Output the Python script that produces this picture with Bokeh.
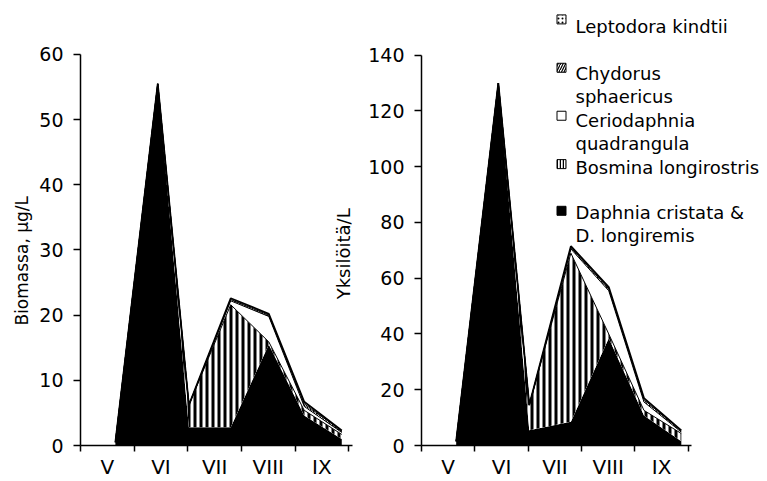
import numpy as np
from bokeh.plotting import figure
from bokeh.models import FixedTicker, Range1d
from bokeh.layouts import row
from bokeh.embed import file_html
from bokeh.resources import INLINE
from bokeh.core.properties import value

FONT = "DejaVu Sans"

# ---------------- data ----------------
months = ["V", "VI", "VII", "VIII", "IX"]
# sampling dates expressed as position within the month axis (V = 0..1, VI = 1..2, ...)
sample_pos = [0.65, 1.44, 2.02, 2.80, 3.51, 4.17, 4.87]

# stacking order bottom -> top
species = ["Daphnia cristata &\nD. longiremis", "Bosmina longirostris",
           "Ceriodaphnia\nquadrangula", "Chydorus\nsphaericus", "Leptodora kindtii"]

# biomass, ug/L
biomass_daphnia = [0.5, 55.5, 2.8, 2.8, 15.5, 4.6, 1.0]
biomass_bosmina = [0.0, 0.0, 3.4, 18.8, 0.4, 0.8, 0.7]
biomass_cerio = [0.0, 0.0, 0.0, 0.6, 3.9, 0.6, 0.3]
biomass_chydorus = [0.0, 0.0, 0.0, 0.2, 0.2, 0.4, 0.2]
biomass_leptodora = [0.0, 0.0, 0.0, 0.2, 0.2, 0.3, 0.1]

# individuals / L
count_daphnia = [1.5, 130.0, 5.5, 8.5, 38.5, 10.8, 1.5]
count_bosmina = [0.0, 0.0, 9.0, 60.5, 1.5, 1.8, 2.8]
count_cerio = [0.0, 0.0, 0.0, 1.5, 15.5, 3.0, 0.5]
count_chydorus = [0.0, 0.0, 0.0, 0.5, 0.7, 0.8, 0.4]
count_leptodora = [0.0, 0.0, 0.0, 0.5, 0.6, 0.6, 0.2]

biomass_ticks = [0, 10, 20, 30, 40, 50, 60]
count_ticks = [0, 20, 40, 60, 80, 100, 120, 140]

biomass_title = "Biomassa, µg/L"
count_title = "Yksilöitä/L"

# ---------------- styles ----------------
layer_styles = [
    dict(fill_color="black"),
    dict(fill_color="white", hatch_pattern="|", hatch_color="black", hatch_scale=6, hatch_weight=3),
    dict(fill_color="white"),
    dict(fill_color="white", hatch_pattern="/", hatch_color="black", hatch_scale=4, hatch_weight=1),
    dict(fill_color="white", hatch_pattern=".", hatch_color="black", hatch_scale=4, hatch_weight=1),
]
legend_styles = [
    dict(fill_color="black", line_color="black"),
    dict(fill_color="white", line_color="black", hatch_pattern="|", hatch_color="black", hatch_scale=3, hatch_weight=1.5),
    dict(fill_color="white", line_color="black"),
    dict(fill_color="white", line_color="black", hatch_pattern="/", hatch_color="black", hatch_scale=5, hatch_weight=1.2),
    dict(fill_color="white", line_color="black", hatch_pattern=".", hatch_color="black", hatch_scale=4, hatch_weight=1),
]

month_centers = [i + 0.5 for i in range(len(months))]
month_edges = list(range(len(months) + 1))

# shared frame geometry (row layouts align the frames of all charts)
TOP, BOTTOM = 5, 448
FRAME_H = BOTTOM - TOP
AX_END = 5.07


def draw_stack(p, layers):
    x = np.array(sample_pos)
    base = np.zeros(len(x))
    tops = []
    for vals, style in zip(layers, layer_styles):
        top = base + np.array(vals)
        p.varea(x=x, y1=base, y2=top, **style)
        tops.append(top)
        base = top
    for top, w in zip(tops[1:], [1, 1, 1, 1.8]):
        p.line(x, top, line_color="black", line_width=w)


def clean(p):
    p.xgrid.visible = False
    p.ygrid.visible = False
    p.outline_line_color = None
    p.background_fill_color = "white"
    p.border_fill_color = "white"


def style_axes(p, yticks, ymax):
    clean(p)
    xa = p.xaxis[0]
    xa.ticker = FixedTicker(ticks=month_centers, minor_ticks=month_edges)
    xa.major_label_overrides = {c: m for c, m in zip(month_centers, months)}
    xa.major_tick_out = 0
    xa.major_tick_in = 0
    xa.minor_tick_out = 6
    xa.minor_tick_in = 0
    xa.minor_tick_line_color = "black"
    xa.minor_tick_line_width = 1.5
    xa.axis_line_color = "black"
    xa.axis_line_width = 1.5
    xa.major_label_text_font = FONT
    xa.major_label_text_font_size = "20px"
    xa.major_label_text_color = "black"
    xa.major_label_standoff = 3
    xa.bounds = (0, AX_END)
    ya = p.yaxis[0]
    ya.ticker = FixedTicker(ticks=yticks, minor_ticks=[])
    ya.major_tick_out = 7
    ya.major_tick_in = 0
    ya.major_tick_line_color = "black"
    ya.major_tick_line_width = 1.5
    ya.axis_line_color = "black"
    ya.axis_line_width = 1.5
    ya.major_label_text_font = FONT
    ya.major_label_text_font_size = "19px"
    ya.major_label_text_color = "black"
    ya.major_label_standoff = 10
    ya.bounds = (0, ymax)


# ---------------- left title strip ----------------
T_W = 35
p0 = figure(width=T_W, height=481, x_range=Range1d(0, T_W), y_range=Range1d(FRAME_H, 0),
            x_axis_location=None, y_axis_location=None,
            min_border_left=0, min_border_right=0, min_border_top=TOP, min_border_bottom=481 - BOTTOM,
            toolbar_location=None, output_backend="svg")
clean(p0)
p0.text(x=[21], y=[262 - TOP], text=[biomass_title], angle=np.pi / 2, text_font=value(FONT),
        text_font_size="17px", text_align="center", text_baseline="middle", text_color="black")

# ---------------- left chart ----------------
L_FRAME_W = 272
p1 = figure(width=360 - T_W, height=481, x_range=Range1d(0, AX_END),
            y_range=Range1d(0, 60 * FRAME_H / (BOTTOM - 54.3)),
            min_border_left=80 - T_W, min_border_right=8, min_border_top=TOP, min_border_bottom=481 - BOTTOM,
            toolbar_location=None, output_backend="svg")
draw_stack(p1, [biomass_daphnia, biomass_bosmina, biomass_cerio, biomass_chydorus, biomass_leptodora])
style_axes(p1, biomass_ticks, 60)

# pixel ranges for the second chart's axis title (which sits inside this frame)
p1.extra_x_ranges = {"px": Range1d(0, L_FRAME_W)}
p1.extra_y_ranges = {"px": Range1d(FRAME_H, 0)}
p1.text(x=[263], y=[255 - TOP], text=[count_title], angle=np.pi / 2,
        x_range_name="px", y_range_name="px", text_font=value(FONT),
        text_font_size="18px", text_align="center", text_baseline="middle", text_color="black")

# ---------------- right chart ----------------
R_FRAME_W = 346
p2 = figure(width=407, height=481, x_range=Range1d(0, R_FRAME_W / 53.35),
            y_range=Range1d(0, 140 * FRAME_H / (BOTTOM - 55.0)),
            min_border_left=61, min_border_right=0, min_border_top=TOP, min_border_bottom=481 - BOTTOM,
            toolbar_location=None, output_backend="svg")
draw_stack(p2, [count_daphnia, count_bosmina, count_cerio, count_chydorus, count_leptodora])
style_axes(p2, count_ticks, 140)

# legend (drawn in frame-pixel coordinates, y downward from frame top)
p2.extra_x_ranges = {"px": Range1d(0, R_FRAME_W)}
p2.extra_y_ranges = {"px": Range1d(FRAME_H, 0)}
legend_order = [4, 3, 2, 1, 0]           # top -> bottom
marker_y = [19, 67.7, 116, 164.7, 211.7]
first_baseline = [26.5, 73, 120.5, 168, 213]
LINE_STEP = 23.5
for row_i, sp_i in enumerate(legend_order):
    p2.rect(x=[140], y=[marker_y[row_i] - TOP], width=9, height=9, width_units="screen",
            height_units="screen", line_width=1, x_range_name="px", y_range_name="px",
            **legend_styles[sp_i])
    lines = species[sp_i].split("\n")
    p2.text(x=[154] * len(lines),
            y=[first_baseline[row_i] - TOP + k * LINE_STEP for k in range(len(lines))],
            text=lines, x_range_name="px", y_range_name="px", text_font=value(FONT),
            text_font_size="18px", text_align="left", text_baseline="alphabetic", text_color="black")

layout = row(p0, p1, p2)
open("out.html", "w").write(file_html(layout, INLINE))
